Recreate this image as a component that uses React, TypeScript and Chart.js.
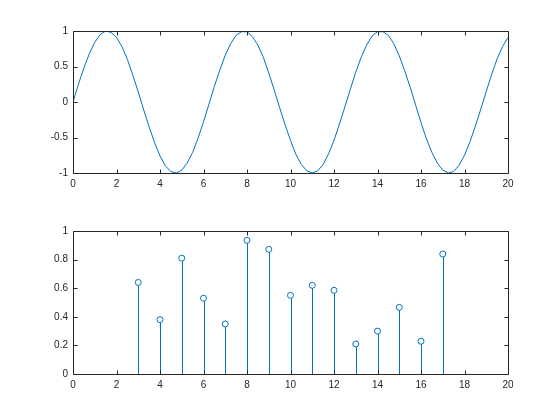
import React, { useEffect, useRef } from "react";
import { Chart, registerables } from "chart.js";

Chart.register(...registerables);

// Top subplot: curve samples (x step 0.25, 0..20)
const curveX: number[] = [
  0, 0.25, 0.5, 0.75, 1, 1.25, 1.5, 1.75, 2, 2.25, 2.5, 2.75, 3, 3.25, 3.5, 3.75,
  4, 4.25, 4.5, 4.75, 5, 5.25, 5.5, 5.75, 6, 6.25, 6.5, 6.75, 7, 7.25, 7.5, 7.75,
  8, 8.25, 8.5, 8.75, 9, 9.25, 9.5, 9.75, 10, 10.25, 10.5, 10.75, 11, 11.25, 11.5, 11.75,
  12, 12.25, 12.5, 12.75, 13, 13.25, 13.5, 13.75, 14, 14.25, 14.5, 14.75, 15, 15.25, 15.5, 15.75,
  16, 16.25, 16.5, 16.75, 17, 17.25, 17.5, 17.75, 18, 18.25, 18.5, 18.75, 19, 19.25, 19.5, 19.75, 20,
];
const curveY: number[] = [
  0, 0.25, 0.48, 0.68, 0.84, 0.95, 1.0, 0.98, 0.91, 0.78, 0.6, 0.38, 0.14, -0.11, -0.35, -0.57,
  -0.76, -0.9, -0.98, -1.0, -0.96, -0.86, -0.71, -0.51, -0.28, -0.03, 0.22, 0.45, 0.66, 0.82, 0.94, 0.99,
  0.99, 0.92, 0.8, 0.63, 0.41, 0.17, -0.08, -0.32, -0.54, -0.74, -0.88, -0.97, -1.0, -0.97, -0.88, -0.73,
  -0.54, -0.31, -0.07, 0.18, 0.42, 0.63, 0.8, 0.93, 0.99, 0.99, 0.94, 0.82, 0.65, 0.44, 0.21, -0.04,
  -0.29, -0.52, -0.71, -0.86, -0.96, -1.0, -0.98, -0.89, -0.75, -0.56, -0.34, -0.1, 0.15, 0.39, 0.61, 0.78, 0.91,
];

// Bottom subplot: stem values
const stemX: number[] = [3, 4, 5, 6, 7, 8, 9, 10, 11, 12, 13, 14, 15, 16, 17];
const stemY: number[] = [0.64, 0.38, 0.81, 0.53, 0.35, 0.935, 0.872, 0.55, 0.62, 0.585, 0.21, 0.3, 0.466, 0.229, 0.839];

const xMin = 0;
const xMax = 20;
const xStep = 2;

const BLUE = "#0072BD";
const AXIS = "#262626";
const FONT = { family: "'Liberation Sans', Arial, sans-serif", size: 10 };

const boxPlugin = {
  id: "matlabBox",
  afterDraw(chart: any) {
    const { ctx, chartArea } = chart;
    const { left, right, top, bottom } = chartArea;
    const tl = 4;
    ctx.save();
    ctx.strokeStyle = AXIS;
    ctx.lineWidth = 1;
    ctx.beginPath();
    ctx.rect(Math.round(left) + 0.5, Math.round(top) + 0.5, Math.round(right - left), Math.round(bottom - top));
    const xs = chart.scales.x;
    xs.ticks.forEach((t: any) => {
      const px = Math.round(xs.getPixelForValue(t.value)) + 0.5;
      ctx.moveTo(px, Math.round(bottom) + 0.5);
      ctx.lineTo(px, Math.round(bottom) + 0.5 - tl);
      ctx.moveTo(px, Math.round(top) + 0.5);
      ctx.lineTo(px, Math.round(top) + 0.5 + tl);
    });
    const ys = chart.scales.y;
    ys.ticks.forEach((t: any) => {
      const py = Math.round(ys.getPixelForValue(t.value)) + 0.5;
      ctx.moveTo(Math.round(left) + 0.5, py);
      ctx.lineTo(Math.round(left) + 0.5 + tl, py);
      ctx.moveTo(Math.round(right) + 0.5, py);
      ctx.lineTo(Math.round(right) + 0.5 - tl, py);
    });
    ctx.stroke();
    ctx.restore();
  },
};

// Stems drawn from the scatter points' own positions down to y = 0
const stemPlugin = {
  id: "stems",
  beforeDatasetsDraw(chart: any) {
    const meta = chart.getDatasetMeta(0);
    const ys = chart.scales.y;
    const base = ys.getPixelForValue(0);
    const ctx = chart.ctx;
    ctx.save();
    ctx.strokeStyle = BLUE;
    ctx.lineWidth = 1;
    ctx.beginPath();
    meta.data.forEach((pt: any) => {
      const px = Math.round(pt.x) + 0.5;
      ctx.moveTo(px, base);
      ctx.lineTo(px, pt.y + 3);
    });
    ctx.stroke();
    ctx.restore();
  },
};

const fmt = (v: any) => String(Number(Number(v).toFixed(3)));

function axes(yMin: number, yMax: number, yStep: number, xHeight: number) {
  return {
    x: {
      type: "linear" as const,
      min: xMin,
      max: xMax,
      offset: false,
      ticks: { stepSize: xStep, color: AXIS, font: FONT, padding: 5, maxRotation: 0, callback: fmt },
      grid: { display: false, drawTicks: false, offset: false },
      border: { display: false },
      afterFit(s: any) {
        s.height = xHeight;
      },
    },
    y: {
      type: "linear" as const,
      min: yMin,
      max: yMax,
      ticks: { stepSize: yStep, color: AXIS, font: FONT, padding: 5, callback: fmt },
      grid: { display: false, drawTicks: false },
      border: { display: false },
      afterFit(s: any) {
        s.width = 73;
      },
    },
  };
}

export default function App() {
  const topRef = useRef<HTMLCanvasElement>(null);
  const botRef = useRef<HTMLCanvasElement>(null);

  useEffect(() => {
    const top = new Chart(topRef.current!, {
      type: "line",
      data: {
        datasets: [
          {
            data: curveX.map((x, i) => ({ x, y: curveY[i] })),
            borderColor: BLUE,
            borderWidth: 1,
            pointRadius: 0,
            tension: 0,
            fill: false,
          },
        ],
      },
      options: {
        responsive: false,
        animation: false,
        maintainAspectRatio: false,
        layout: { padding: { top: 31, right: 52, left: 0, bottom: 0 } },
        plugins: { legend: { display: false }, tooltip: { enabled: false } },
        scales: axes(-1, 1, 0.5, 37),
      },
      plugins: [boxPlugin],
    });

    const bot = new Chart(botRef.current!, {
      type: "scatter",
      data: {
        datasets: [
          {
            data: stemX.map((x, i) => ({ x, y: stemY[i] })),
            borderColor: BLUE,
            backgroundColor: "rgba(0,0,0,0)",
            pointStyle: "circle",
            pointRadius: 3,
            borderWidth: 1,
          },
        ],
      },
      options: {
        responsive: false,
        animation: false,
        maintainAspectRatio: false,
        layout: { padding: { top: 21, right: 52, left: 0, bottom: 0 } },
        plugins: { legend: { display: false }, tooltip: { enabled: false } },
        scales: axes(0, 1, 0.2, 46) as any,
      },
      plugins: [boxPlugin, stemPlugin],
    });

    return () => {
      top.destroy();
      bot.destroy();
    };
  }, []);

  return (
    <div style={{ position: "fixed", left: 0, top: 0, width: 560, height: 420, background: "#fff" }}>
      <canvas ref={topRef} width={560} height={210} style={{ position: "absolute", left: 0, top: 0, width: 560, height: 210 }} />
      <canvas ref={botRef} width={560} height={210} style={{ position: "absolute", left: 0, top: 210, width: 560, height: 210 }} />
    </div>
  );
}
